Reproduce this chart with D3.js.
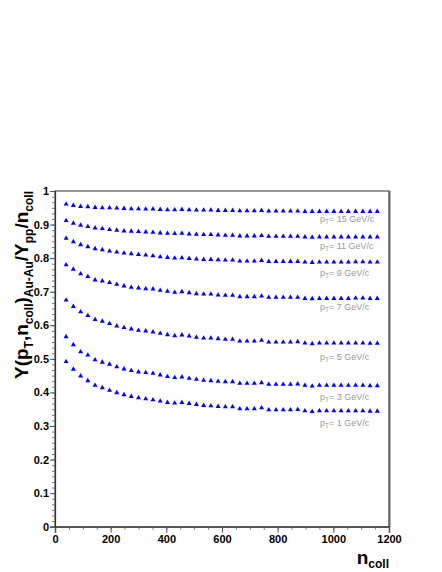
<html>
<head>
<script src="https://d3js.org/d3.v7.min.js"></script>
<style>
	body { margin: 0; background: #fff; }
	text { font-family: "Liberation Sans", Arial, sans-serif; }
</style>
</head>
<body>
<div id="chart"></div>
<script>
// n_coll values of the points (same for every curve)
var nColl = [40, 66, 92, 118, 144, 170, 196, 222, 248, 274, 300, 326, 352, 378, 404,
	430, 456, 482, 508, 534, 560, 586, 612, 638, 664, 690, 716, 742, 768, 794, 820,
	846, 872, 898, 924, 950, 976, 1002, 1028, 1054, 1080, 1106, 1132, 1158]

var pt15 = [.961, .957, .954, .953, .951, .950, .950, .949, .948, .947, .947, .946, .946, .945, .944,
	.944, .945, .944, .943, .943, .943, .942, .942, .942, .941, .941, .941, .942, .940, .940, .940,
	.940, .940, .939, .939, .939, .939, .939, .939, .939, .939, .939, .939, .939]
var pt11 = [.912, .904, .898, .894, .890, .888, .885, .883, .881, .880, .879, .878, .877, .875, .874,
	.873, .874, .872, .871, .870, .870, .869, .868, .868, .866, .866, .866, .867, .865, .865, .865,
	.865, .865, .863, .862, .863, .863, .863, .863, .863, .863, .863, .863, .863]
var pt9 = [.859, .849, .840, .834, .828, .825, .821, .818, .815, .813, .811, .809, .807, .804, .802,
	.800, .801, .799, .797, .796, .796, .795, .794, .794, .791, .791, .791, .793, .790, .790, .790,
	.790, .790, .788, .787, .788, .788, .788, .788, .788, .789, .789, .788, .788]
var pt7 = [.780, .767, .753, .745, .735, .732, .727, .722, .717, .713, .711, .709, .708, .704, .701,
	.698, .700, .697, .694, .693, .693, .690, .689, .689, .685, .685, .685, .687, .683, .683, .683,
	.683, .683, .680, .679, .680, .680, .680, .680, .680, .681, .681, .680, .680]
var pt5 = [.675, .656, .640, .629, .617, .612, .605, .598, .593, .589, .585, .583, .580, .576, .572,
	.569, .571, .568, .564, .562, .562, .560, .558, .558, .553, .553, .553, .555, .550, .550, .550,
	.550, .551, .547, .545, .547, .547, .547, .547, .547, .547, .547, .546, .546]
var pt3 = [.566, .542, .521, .511, .497, .490, .484, .476, .470, .465, .461, .459, .457, .452, .447,
	.444, .446, .442, .439, .436, .435, .433, .432, .432, .427, .427, .427, .429, .424, .424, .424,
	.424, .425, .421, .419, .421, .421, .421, .421, .421, .421, .421, .420, .420]
var pt1 = [.492, .469, .449, .435, .421, .414, .406, .399, .393, .388, .384, .381, .378, .374, .370,
	.368, .370, .367, .364, .361, .360, .358, .357, .357, .351, .351, .351, .354, .348, .348, .348,
	.348, .349, .345, .343, .345, .345, .345, .345, .345, .345, .345, .344, .344]

var series = [pt15, pt11, pt9, pt7, pt5, pt3, pt1]
var ptLabels = ["15", "11", "9", "7", "5", "3", "1"]
var labelY = [.916, .836, .757, .655, .506, .387, .308]
var labelX = 952

var xTicks = [0, 200, 400, 600, 800, 1000, 1200]
var yTicks = [0, 0.1, 0.2, 0.3, 0.4, 0.5, 0.6, 0.7, 0.8, 0.9, 1]

var W = 442, H = 572
var frameL = 55, frameR = 389, frameT = 191, frameB = 526.7

var svg = d3.select("#chart").append("svg")
	.attr("width", W)
	.attr("height", H)

var x = d3.scaleLinear().domain([0, 1200]).range([frameL, frameR])
var y = d3.scaleLinear().domain([0, 1]).range([frameB, frameT])

// frame
svg.append("rect")
	.attr("x", frameL).attr("y", frameT)
	.attr("width", frameR - frameL).attr("height", frameB - frameT)
	.style("fill", "none").style("stroke", "#333").style("stroke-width", 1)
svg.append("line")
	.attr("x1", frameR + 0.5).attr("x2", frameR + 0.5)
	.attr("y1", frameT).attr("y2", frameB)
	.style("stroke", "#666").style("stroke-width", 2)

// minor ticks
var xMinor = d3.range(0, 1201, 50)
var yMinor = d3.range(0, 61).map(function(i){ return i / 60 })

svg.append("g")
	.attr("transform", "translate(0," + frameB + ")")
	.call(d3.axisBottom(x).tickValues(xMinor).tickSize(3).tickFormat(""))
	.call(function(g){ g.select(".domain").remove() })
	.selectAll("line").style("stroke", "#777")

svg.append("g")
	.attr("transform", "translate(" + frameL + ",0)")
	.call(d3.axisLeft(y).tickValues(yMinor).tickSize(3).tickFormat(""))
	.call(function(g){ g.select(".domain").remove() })
	.selectAll("line").style("stroke", "#777")

// major ticks
var xAxis = svg.append("g")
	.attr("transform", "translate(0," + frameB + ")")
	.call(d3.axisBottom(x).tickValues(xTicks).tickSize(6).tickPadding(3).tickFormat(d3.format("d")))
xAxis.select(".domain").style("stroke", "#555").style("stroke-width", 1.6)
xAxis.selectAll(".tick line").style("stroke", "#555")
xAxis.selectAll("text")
	.style("font-size", "11px").style("font-weight", "bold").style("fill", "#000")

var yAxis = svg.append("g")
	.attr("transform", "translate(" + frameL + ",0)")
	.call(d3.axisLeft(y).tickValues(yTicks).tickSize(5).tickPadding(1)
		.tickFormat(function(d){ return d3.format("~g")(d) }))
yAxis.select(".domain").style("stroke", "#333").style("stroke-width", 1.2)
yAxis.selectAll(".tick line").style("stroke", "#555")
yAxis.selectAll("text")
	.style("font-size", "11px").style("font-weight", "bold").style("fill", "#000")

// points
var tri = d3.symbol().type(d3.symbolTriangle).size(11)

series.forEach(function(vals){
	svg.append("g")
		.selectAll("path")
		.data(vals)
		.enter()
		.append("path")
		.attr("d", tri)
		.attr("transform", function(d, i){ return "translate(" + x(nColl[i]) + "," + y(d) + ")" })
		.style("fill", "#0000ff")
})

// curve labels
ptLabels.forEach(function(p, i){
	var t = svg.append("text")
		.attr("x", x(labelX))
		.attr("y", y(labelY[i]) + 3)
		.style("font-size", "9px")
		.style("fill", "#999")
	t.append("tspan").text("p")
	t.append("tspan").attr("dy", 2).style("font-size", "6.5px").text("T")
	t.append("tspan").attr("dy", -2).text("= " + p + " GeV/c")
})

// y title
var yt = svg.append("text")
	.attr("transform", "translate(28," + frameT + ") rotate(-90)")
	.attr("text-anchor", "end")
	.style("font-weight", "bold")
	.style("font-size", "19px")
var parts = [["Y(p", 0], ["T", 1], [",n", 0], ["coll", 1], [")", 0], ["Au-Au", 1],
	["/Y", 0], ["pp", 1], ["/n", 0], ["coll", 1]]
var base = 0
parts.forEach(function(pt){
	var shift = pt[1] ? 5 : 0
	yt.append("tspan")
		.attr("dy", shift - base)
		.style("font-size", pt[1] ? "12px" : "19px")
		.text(pt[0])
	base = shift
})

// x title
var xt = svg.append("text")
	.attr("x", frameR)
	.attr("y", 564)
	.attr("text-anchor", "end")
	.style("font-weight", "bold")
	.style("font-size", "19px")
xt.append("tspan").text("n")
xt.append("tspan").attr("dy", 4).style("font-size", "12px").text("coll")
</script>
</body>
</html>
